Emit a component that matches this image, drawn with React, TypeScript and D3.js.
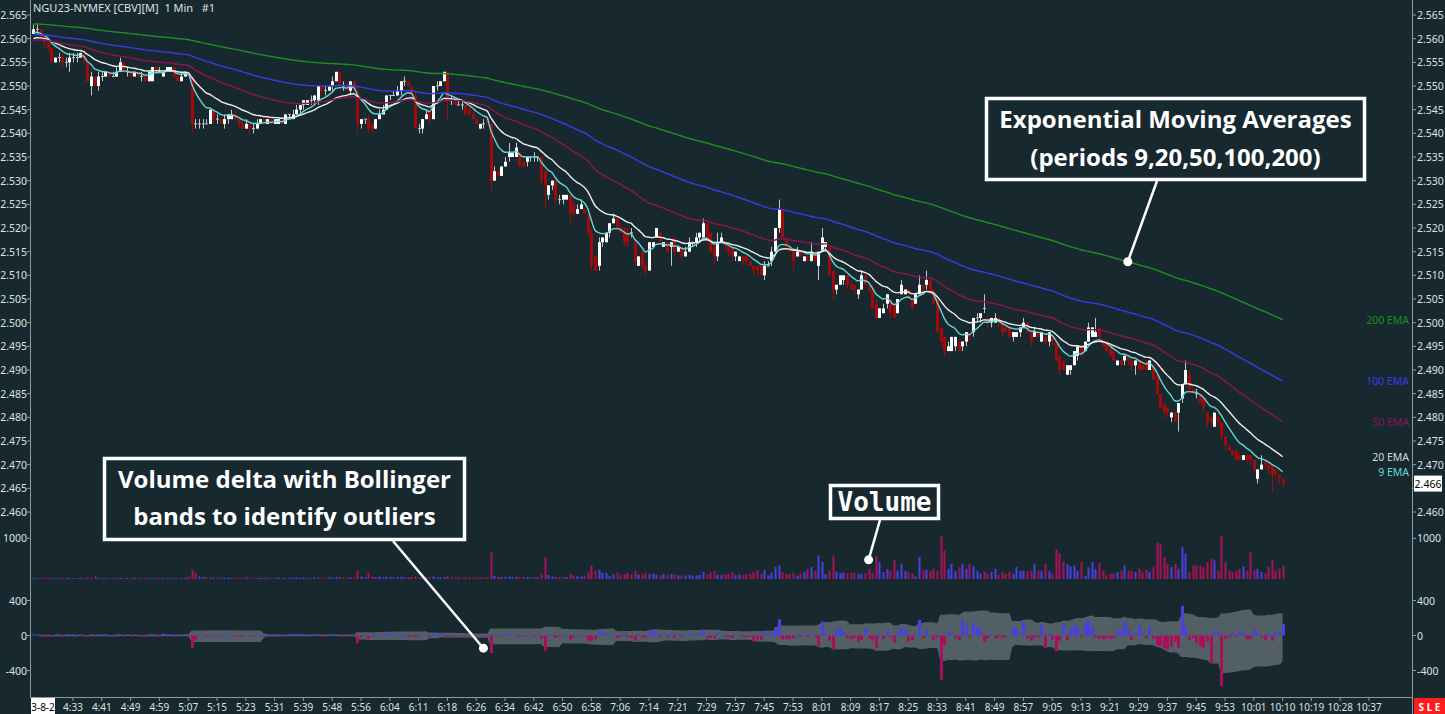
import React from "react";
import * as d3 from "d3";

// ---------- DATA (prices in thousandths above 2.400) ----------
// [open, high, low, close]
const candles: number[][] = [
  [161,163,161,162],[162,163,161,162],[162,162,160,160],[160,161,158,159],[159,159,157,158],[158,158,155,155],[155,156,155,156],[156,157,155,156],[156,157,154,155],[155,156,154,155],
  [155,157,153,156],[156,157,155,156],[156,157,155,156],[156,157,156,157],[157,157,155,155],[155,155,151,151],[150,153,148,152],[152,152,150,150],[150,153,149,152],[152,153,151,152],
  [152,153,152,153],[153,153,152,152],[152,153,152,152],[152,154,152,153],[153,156,153,155],[155,155,153,153],[153,154,152,153],[153,153,152,152],[152,153,152,153],[153,153,152,152],
  [152,153,151,152],[152,152,151,151],[151,153,151,153],[151,154,151,154],[154,154,153,153],[153,154,153,153],[152,153,152,153],[153,154,153,154],[153,154,153,154],[154,154,152,152],
  [152,153,151,151],[151,153,151,152],[152,153,152,153],[153,153,152,152],[152,152,140,142],[142,143,141,142],[142,143,141,142],[142,143,141,142],[142,143,142,142],[142,145,142,145],
  [145,145,142,143],[143,144,142,143],[143,143,142,142],[142,144,141,143],[143,144,142,144],[143,145,143,144],[144,145,143,143],[143,143,141,142],[142,143,141,141],[141,143,141,142],
  [142,142,140,141],[141,142,140,141],[141,143,141,142],[142,143,142,143],[143,143,142,142],[142,143,142,143],[143,143,142,142],[142,143,142,143],[142,143,142,143],[143,143,142,142],
  [142,144,142,144],[144,144,143,144],[143,145,143,144],[144,146,144,145],[145,146,144,146],[146,147,145,147],[146,147,146,147],[147,148,146,147],[147,148,146,148],[147,150,146,150],
  [150,150,148,149],[149,150,148,149],[149,150,149,150],[150,152,149,151],[151,153,151,153],[153,153,150,150],[150,151,149,150],[150,151,149,149],[149,151,148,151],[151,151,149,149],
  [149,150,140,142],[142,143,141,143],[143,143,142,143],[143,144,140,141],[142,142,140,141],[141,143,141,143],[143,145,143,144],[144,146,144,145],[145,148,145,148],[148,148,147,148],
  [148,149,148,148],[148,150,148,149],[149,151,148,151],[151,152,150,151],[151,151,150,150],[150,150,148,148],[148,149,141,141],[141,142,140,141],[141,143,140,143],[143,145,143,144],
  [145,145,142,143],[143,150,143,150],[150,151,149,150],[150,151,150,151],[151,153,151,153],[153,153,143,147],[147,148,146,147],[147,147,146,146],[146,147,146,146],[146,147,145,146],
  [146,146,144,144],[145,146,144,144],[144,145,143,143],[143,143,142,142],[141,142,141,142],[142,143,141,142],[143,143,142,142],[142,142,128,130],[130,133,130,132],[132,132,131,131],
  [131,133,131,133],[133,135,133,134],[135,138,134,136],[135,136,135,136],[135,138,135,137],[136,136,133,133],[134,134,133,133],[134,135,133,135],[135,135,134,135],[135,136,134,135],
  [135,135,134,135],[135,135,129,130],[132,132,124,129],[127,129,126,129],[129,130,128,130],[130,130,125,126],[126,127,125,126],[126,127,125,127],[126,127,126,127],[127,127,121,123],
  [125,126,123,123],[123,125,123,124],[124,126,124,125],[124,124,123,123],[123,123,118,119],[119,120,111,112],[114,114,111,111],[112,118,111,117],[117,118,116,118],[117,119,117,119],
  [119,121,118,121],[121,123,121,122],[122,122,120,120],[120,121,119,119],[120,120,116,117],[119,120,116,117],[119,120,118,119],[117,117,112,113],[112,114,112,114],[115,115,111,112],
  [112,113,110,111],[111,117,111,117],[116,117,116,117],[118,120,118,120],[119,119,117,117],[116,117,116,117],[117,117,115,115],[116,117,112,117],[118,118,114,115],[115,116,115,116],
  [116,116,113,114],[114,116,114,115],[115,118,115,117],[117,117,116,117],[117,119,116,118],[118,119,117,119],[118,122,118,121],[121,121,117,118],[119,119,115,115],[116,117,112,114],
  [114,119,113,117],[117,119,117,118],[117,117,115,116],[116,116,114,115],[116,116,113,114],[114,115,113,115],[113,114,113,114],[114,114,112,113],[114,114,112,113],[113,113,112,112],
  [112,112,110,111],[112,112,110,111],[112,112,110,110],[110,113,109,112],[112,113,112,112],[113,116,112,115],[115,120,115,120],[120,126,119,124],[124,124,118,118],[118,118,116,116],
  [116,116,115,115],[115,115,111,113],[114,116,114,115],[115,115,114,114],[113,114,113,114],[114,114,113,113],[113,117,113,115],[115,115,113,113],[112,115,109,115],[115,120,115,118],
  [116,117,115,117],[116,116,110,110],[111,111,105,107],[107,108,106,108],[108,110,108,110],[109,110,108,110],[110,110,107,108],[108,109,107,107],[108,108,106,107],[106,107,105,107],
  [107,111,107,110],[110,110,108,108],[108,108,106,107],[107,108,103,103],[104,105,101,101],[101,103,101,103],[102,104,102,103],[104,106,103,106],[105,105,101,102],[104,104,101,101],
  [102,105,102,105],[106,109,106,108],[106,107,106,107],[107,107,105,106],[105,105,103,103],[104,106,104,106],[106,110,106,108],[108,108,106,107],[108,111,107,109],[109,109,106,106],
  [107,107,104,104],[105,105,98,98],[99,99,95,96],[97,97,93,94],[94,96,94,95],[94,97,94,97],[95,97,94,97],[96,96,94,94],[95,96,94,96],[96,98,95,98],
  [98,98,96,97],[98,101,97,101],[101,102,100,101],[101,102,100,102],[103,106,102,103],[101,101,99,100],[100,101,99,101],[100,102,100,101],[101,101,99,100],[100,100,97,98],
  [99,99,98,98],[99,99,97,97],[97,98,96,98],[97,98,97,98],[98,99,97,99],[99,101,99,100],[100,100,98,98],[98,98,95,96],[97,99,97,98],[98,98,97,97],
  [96,98,96,98],[97,97,95,96],[96,98,95,98],[97,97,95,96],[96,96,92,92],[93,93,89,90],[92,92,90,90],[89,91,89,91],[90,91,89,91],[91,94,91,94],
  [93,95,92,95],[95,95,93,93],[94,96,94,96],[96,100,96,99],[97,99,97,99],[97,101,97,98],[99,99,96,97],[96,96,95,95],[96,96,94,94],[95,95,93,93],
  [94,94,92,92],[91,92,91,92],[92,92,91,91],[92,93,91,93],[93,93,91,92],[92,92,90,91],[91,92,89,92],[92,92,90,90],[91,91,90,90],[92,92,90,90],
  [90,92,90,92],[91,91,88,88],[89,89,85,85],[85,85,82,82],[83,83,80,81],[82,82,80,81],[80,81,79,81],[81,81,79,79],[81,83,77,83],[84,87,83,87],
  [87,92,87,90],[89,90,85,86],[86,86,85,85],[85,86,84,85],[85,85,83,83],[84,84,81,82],[81,81,78,79],[80,80,78,79],[78,81,78,81],[80,81,78,79],
  [79,79,75,76],[76,76,73,74],[74,74,73,73],[73,73,72,72],[73,73,71,71],[72,72,71,71],[71,72,71,72],[72,72,70,71],[72,72,70,71],[71,71,68,69],
  [67,69,66,69],[69,72,69,70],[71,71,69,70],[70,70,68,69],[70,70,64,68],[69,69,67,68],[68,68,66,67],[67,67,65,66],
];

const volumes: number[] = [
  30,25,30,35,25,30,20,25,30,25, 30,25,20,30,25,40,30,70,30,25,
  25,20,30,25,30,25,20,25,30,20, 25,30,20,25,30,25,30,20,25,30,
  25,30,35,60,230,140,60,50,45,40, 35,30,40,30,35,30,30,35,30,40,
  35,30,25,30,35,30,25,30,35,30, 25,30,35,40,30,35,30,25,35,40,
  35,30,40,35,45,50,40,35,40,45, 200,60,45,150,70,50,60,45,55,50,
  40,45,55,40,50,45,70,40,35,40, 45,60,40,45,50,80,45,40,35,30,
  45,40,35,40,30,35,40,650,80,60, 50,55,60,45,55,50,60,45,40,50,
  45,120,525,100,60,55,45,40,50,125, 90,70,60,80,170,330,200,225,150,150,
  80,110,150,100,120,150,100,200,110,120, 150,120,140,100,90,130,100,120,110,90,
  80,90,100,80,90,100,170,110,150,200, 110,100,120,130,170,90,110,100,120,130,
  170,220,120,220,90,150,300,330,170,130, 120,150,80,140,180,250,300,200,580,420,
  120,200,580,180,150,160,140,160,150,120, 130,140,250,150,560,415,170,250,200,460,
  200,375,200,170,130,60,540,230,230,200, 250,200,1060,710,250,370,200,290,370,250,
  370,310,200,130,180,130,170,250,100,170, 130,170,130,290,200,200,200,200,360,200,
  200,360,200,130,725,625,420,360,310,330, 200,415,80,290,420,250,390,200,100,130,
  130,170,200,330,200,200,170,250,170,230, 170,290,890,860,540,370,290,370,250,790,
  625,170,330,330,330,290,420,500,460,200, 1065,420,200,170,200,250,310,200,650,200,
  250,170,130,300,460,200,250,330,
];

const deltas: number[] = [
  5,3,-4,-5,-3,-6,2,3,-3,2, 4,2,-2,3,-3,-5,4,-8,5,2,
  3,-2,-2,3,5,-4,2,-3,2,-2, -2,-3,4,5,-3,-2,20,3,3,-4,
  -3,2,3,-15,-140,-50,20,5,-5,15, -6,3,-4,5,6,4,-5,-6,-5,3,
  -5,-3,4,5,-3,4,-3,6,3,-8, 7,3,5,6,5,6,4,-3,5,8,
  -6,-3,5,6,7,-8,-4,-5,7,-6, -90,-20,5,-40,-15,15,12,10,25,8,
  5,10,20,8,-10,-12,-25,-5,15,10, -10,25,5,10,15,-20,-5,-8,3,-5,
  -12,-10,-8,-10,6,-3,-5,-200,15,-5, 10,12,20,8,15,-15,-10,6,3,-3,
  3,-40,-170,20,12,-25,-5,10,8,-45, -20,10,12,-10,-60,-60,-45,45,25,20,
  15,10,-25,-15,25,-20,-25,-65,20,-30, -20,60,50,20,-15,10,-20,35,-25,15,
  -20,10,20,15,10,20,60,-25,-30,-35, 25,10,-15,-20,-30,15,10,-15,-20,-15,
  -70,-45,-50,40,10,35,95,185,-45,-40, -45,-30,15,-20,20,-15,25,-20,-125,160,
  25,-60,-160,65,85,40,-30,-40,-25,-70, -50,85,-30,-60,-145,30,-40,65,-20,-80,
  40,100,65,-70,-50,15,180,-30,65,10, -50,-20,-505,-110,45,30,-30,-50,180,120,
  -20,140,100,45,-70,-30,20,-35,-20,-30, -15,10,85,85,20,160,-35,-60,-20,-25,
  120,-145,30,-50,-183,-60,140,-50,65,120, 100,-20,140,180,100,-20,-35,-45,-30,-35,
  -30,65,45,160,80,-50,30,120,30,-25, 95,-40,-110,-125,-145,-160,-125,-70,-145,340,
  110,-50,-30,-90,-125,-145,-70,-315,45,45, -580,-40,-20,25,-15,45,30,-45,-40,65,
  30,-20,-50,20,-60,45,25,130,
];

const priceTicks: number[] = [2.460,2.465,2.470,2.475,2.480,2.485,2.490,2.495,2.500,2.505,2.510,2.515,2.520,2.525,2.530,2.535,2.540,2.545,2.550,2.555,2.560,2.565];
const volumeTicks: number[] = [1000];
const deltaTicks: number[] = [400, 0, -400];
const timeLabels: string[] = ["4:33","4:41","4:49","4:59","5:07","5:15","5:23","5:31","5:39","5:48","5:56","6:04","6:11","6:18","6:26","6:34","6:42","6:50","6:58","7:06","7:14","7:21","7:29","7:37","7:45","7:53","8:01","8:09","8:17","8:25","8:33","8:41","8:49","8:57","9:05","9:13","9:21","9:29","9:37","9:45","9:53","10:01","10:10","10:19","10:28","10:37"];
const timeLabelFirstBar = 11;
const timeLabelStep = 8;

const emaPeriods: number[] = [9, 20, 50, 100, 200];
const emaSeeds: number[] = [161.2, 160.0, 159.6, 160.8, 163.1];
const emaNames: string[] = ["9 EMA", "20 EMA", "50 EMA", "100 EMA", "200 EMA"];
const emaColors: string[] = ["#62d8d6", "#ececec", "#8e1452", "#3a3ae8", "#1f8d1f"];
const emaLabelColors: string[] = ["#62d8d6", "#d8d8d8", "#8e1452", "#3a3ae8", "#1f8d1f"];

// ---------- STYLE ----------
const BG = "#17292f";
const AXIS = "#8d9ba0";
const TXT = "#dde1e1";
const UP = "#ffffff";
const UPWICK = "#c4c4c4";
const DN = "#a00a0a";
const VBLUE = "#4c3fe0";
const VRED = "#a8105c";
const BAND = "#525f65";
const FONT = "'Noto Sans', 'DejaVu Sans', sans-serif";
const BOLDFONT = "'Open Sans', 'Noto Sans', sans-serif";

export default function App() {
  const n = Math.min(candles.length, volumes.length, deltas.length);
  const x = d3.scaleLinear().domain([0, 347]).range([33.4, 1282.6]);
  const yP = d3.scaleLinear().domain([2.46, 2.565]).range([512, 15]);
  const yV = d3.scaleLinear().domain([0, 1000]).range([579, 538.3]);
  const yD = d3.scaleLinear().domain([-400, 400]).range([670.5, 600.5]);
  const pr = (v: number) => 2.4 + v / 1000;

  const data = d3.range(n).map((i) => ({
    i, o: candles[i][0], h: candles[i][1], l: candles[i][2], c: candles[i][3], v: volumes[i], d: deltas[i],
  }));

  // EMAs
  const emas = emaPeriods.map((p, k) => {
    const a = 2 / (p + 1);
    let e = emaSeeds[k];
    return data.map((b, i) => {
      if (i > 0) e = e + a * (b.c - e);
      return e;
    });
  });

  // Bollinger on delta (period 20, 2 sd)
  const band = data.map((b, i) => {
    const w = deltas.slice(Math.max(0, i - 19), i + 1);
    const m = d3.mean(w) as number;
    const sd = Math.sqrt(d3.mean(w.map((v) => (v - m) * (v - m))) as number);
    return { i, up: m + 2 * sd, lo: m - 2 * sd };
  });
  const bandArea = d3.area<any>()
    .x((d) => x(d.i))
    .y0((d) => yD(d.lo))
    .y1((d) => yD(d.up))
    .curve(d3.curveMonotoneX);

  const emaLine = (arr: number[]) =>
    d3.line<number>().x((_, i) => x(i)).y((v) => yP(pr(v))).curve(d3.curveMonotoneX)(arr) || "";

  const last = data[n - 1];
  const lastY = yP(pr(last.c));

  const dot1 = { x: x(304), y: yP(pr(emas[4][304])) };
  const dot2 = { x: x(125), y: yD(-145) };
  const dot3 = { x: x(232), y: yV(470) };

  return (
    <svg width={1445} height={714} style={{ position: "fixed", left: 0, top: 0, display: "block", background: BG }} fontFamily={FONT}>
      <rect x={0} y={0} width={1445} height={714} fill={BG} />

      {/* title */}
      <text x={33} y={12} fontSize={11} fill={TXT} style={{ whiteSpace: "pre" }}>NGU23-NYMEX [CBV][M]  1 Min   #1</text>

      {/* delta band + bars */}
      <path d={bandArea(band) || ""} fill={BAND} />
      {data.map((b) => {
        const cx = Math.round(x(b.i));
        const y0 = yD(0), y1 = yD(b.d);
        const h = Math.max(1, Math.abs(y1 - y0));
        return <rect key={"d" + b.i} x={cx - 1} y={b.d >= 0 ? y0 - h : y0} width={3} height={h} fill={b.d >= 0 ? VBLUE : VRED} />;
      })}

      {/* volume bars */}
      {data.map((b) => {
        const cx = Math.round(x(b.i));
        const h = Math.max(1, yV(0) - yV(b.v));
        const up = b.c > b.o || (b.c === b.o && b.d >= 0);
        return <rect key={"v" + b.i} x={cx - 0.5} y={yV(0) - h} width={2} height={h} fill={up ? VBLUE : VRED} />;
      })}

      {/* candles */}
      {data.map((b) => {
        const cx = Math.round(x(b.i));
        const up = b.c > b.o;
        const doji = b.c === b.o;
        const top = yP(pr(Math.max(b.o, b.c)));
        const bot = yP(pr(Math.min(b.o, b.c)));
        const col = doji ? UPWICK : up ? UP : DN;
        return (
          <g key={"c" + b.i}>
            <line x1={cx + 0.5} x2={cx + 0.5} y1={yP(pr(b.h))} y2={yP(pr(b.l))} stroke={doji ? UPWICK : up ? UPWICK : DN} strokeWidth={1} />
            {doji ? (
              <rect x={cx - 1} y={top - 0.5} width={3} height={1} fill={col} />
            ) : (
              <rect x={cx - 1} y={top} width={3} height={Math.max(1, bot - top)} fill={col} />
            )}
          </g>
        );
      })}

      {/* EMAs */}
      {emas.map((arr, k) => (
        <path key={"e" + k} d={emaLine(arr)} fill="none" stroke={emaColors[k]} strokeWidth={1.4} />
      ))}
      {emas.map((arr, k) => (
        <text key={"el" + k} x={1409} y={yP(pr(arr[n - 1])) + 4} fontSize={10.5} fill={emaLabelColors[k]} textAnchor="end">{emaNames[k]}</text>
      ))}

      {/* axes lines */}
      <line x1={30.5} x2={30.5} y1={0} y2={697} stroke={AXIS} />
      <line x1={1412.5} x2={1412.5} y1={0} y2={714} stroke={AXIS} />
      <line x1={30} x2={1413} y1={697.5} y2={697.5} stroke={AXIS} />

      {/* price ticks */}
      {priceTicks.map((t) => (
        <g key={"p" + t}>
          <line x1={27} x2={30} y1={yP(t)} y2={yP(t)} stroke={AXIS} />
          <text x={27} y={yP(t) + 4} fontSize={10.5} fill={TXT} textAnchor="end">{t.toFixed(3)}</text>
          <line x1={1413} x2={1416} y1={yP(t)} y2={yP(t)} stroke={AXIS} />
          {Math.abs(yP(t) - lastY) > 11 ? (
            <text x={1417} y={yP(t) + 4} fontSize={10.5} fill={TXT}>{t.toFixed(3)}</text>
          ) : null}
        </g>
      ))}
      {volumeTicks.map((t) => (
        <g key={"vt" + t}>
          <line x1={27} x2={30} y1={yV(t)} y2={yV(t)} stroke={AXIS} />
          <text x={27} y={yV(t) + 4} fontSize={10.5} fill={TXT} textAnchor="end">{t}</text>
          <line x1={1413} x2={1416} y1={yV(t)} y2={yV(t)} stroke={AXIS} />
          <text x={1417} y={yV(t) + 4} fontSize={10.5} fill={TXT}>{t}</text>
        </g>
      ))}
      {deltaTicks.map((t) => (
        <g key={"dt" + t}>
          <line x1={27} x2={30} y1={yD(t)} y2={yD(t)} stroke={AXIS} />
          <text x={27} y={yD(t) + 4} fontSize={10.5} fill={TXT} textAnchor="end">{t}</text>
          <line x1={1413} x2={1416} y1={yD(t)} y2={yD(t)} stroke={AXIS} />
          <text x={1417} y={yD(t) + 4} fontSize={10.5} fill={TXT}>{t}</text>
        </g>
      ))}

      {/* last price tag */}
      <rect x={1414} y={lastY - 8} width={28} height={16} fill="#ffffff" />
      <text x={1428} y={lastY + 4} fontSize={10.5} fill="#000" textAnchor="middle">{(pr(last.c)).toFixed(3)}</text>

      {/* time axis */}
      {timeLabels.map((t, k) => {
        const xx = x(timeLabelFirstBar + k * timeLabelStep);
        return (
          <g key={"t" + k}>
            <line x1={xx} x2={xx} y1={698} y2={701} stroke={AXIS} />
            <text x={xx} y={710.5} fontSize={10} fill={TXT} textAnchor="middle">{t}</text>
          </g>
        );
      })}
      <rect x={31} y={698} width={24} height={16} fill="#ffffff" />
      <text x={43} y={710.5} fontSize={10} fill="#000" textAnchor="middle">3-8-2</text>
      <rect x={1414} y={698} width={31} height={16} fill="#ff1c1c" />
      <text x={1429.5} y={710.5} fontSize={10} fill="#ffffff" textAnchor="middle" fontWeight={700} style={{ whiteSpace: "pre" }}>S L E</text>

      {/* annotations */}
      <line x1={1157} y1={181} x2={dot1.x} y2={dot1.y} stroke="#fff" strokeWidth={2.5} />
      <circle cx={dot1.x} cy={dot1.y} r={4.5} fill="#fff" />
      <rect x={986.5} y={98.5} width={378} height={81} fill={BG} stroke="#fff" strokeWidth={3.5} />
      <text x={1175.5} y={127.5} fontSize={24} fontWeight={700} fill="#fff" textAnchor="middle" fontFamily={BOLDFONT}>Exponential Moving Averages</text>
      <text x={1175.5} y={165.5} fontSize={24} fontWeight={700} fill="#fff" textAnchor="middle" fontFamily={BOLDFONT}>(periods 9,20,50,100,200)</text>

      <line x1={393} y1={541} x2={dot2.x} y2={dot2.y} stroke="#fff" strokeWidth={2.5} />
      <circle cx={dot2.x} cy={dot2.y} r={4.5} fill="#fff" />
      <rect x={104.5} y={458.5} width={360} height={81} fill={BG} stroke="#fff" strokeWidth={3.5} />
      <text x={284.5} y={487.5} fontSize={24} fontWeight={700} fill="#fff" textAnchor="middle" fontFamily={BOLDFONT}>Volume delta with Bollinger</text>
      <text x={284.5} y={524.5} fontSize={24} fontWeight={700} fill="#fff" textAnchor="middle" fontFamily={BOLDFONT}>bands to identify outliers</text>

      <line x1={880} y1={520} x2={dot3.x} y2={dot3.y} stroke="#fff" strokeWidth={2.5} />
      <circle cx={dot3.x} cy={dot3.y} r={4.5} fill="#fff" />
      <rect x={830.5} y={485.5} width={108} height={33} fill={BG} stroke="#fff" strokeWidth={3.5} />
      <text x={884.5} y={511} fontSize={26} fontWeight={700} fill="#fff" textAnchor="middle" fontFamily="'DejaVu Sans Mono', monospace">Volume</text>
    </svg>
  );
}
